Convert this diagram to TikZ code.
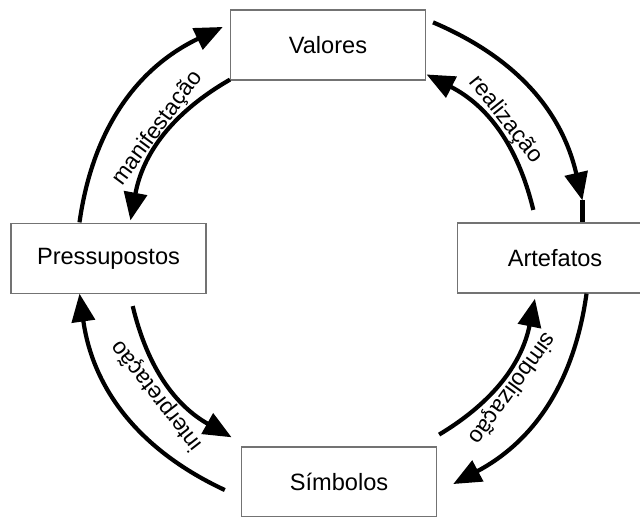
\documentclass[tikz,border=0pt]{standalone}
\usepackage{fontspec}
\setmainfont{Liberation Sans}
\usetikzlibrary{arrows.meta, calc}
\tikzstyle{box} = [rectangle, minimum width=97.5pt, minimum height=35pt, text centered, draw=black!55, line width=0.6pt, font=\fontsize{11.8}{14}\selectfont]
\tikzstyle{arrow} = [-{Triangle[length=14pt, width=11.5pt]}, line width=2.1pt]
\tikzstyle{stub} = [line width=2.1pt]
\tikzstyle{flowtext} = [font=\fontsize{11.4}{13}\selectfont, inner sep=0pt]

\begin{document}
\begin{tikzpicture}[x=0.5pt, y=0.5pt]
	\clip (0,0) rectangle (640,516);
	\coordinate (c) at (333,258);
	\node (valores) [box] at (328,471) {Valores};
	\node (pressupostos) [box] at (108.5,257.5) {Pressupostos};
	\node (artefatos) [box] at (555,258) {Artefatos};
	\node (simbolos) [box] at (339,34) {Símbolos};

	% arc ends: outer radius 256, inner radius 206
	\coordinate (m1) at ($(c)+(172:256)$);
	\coordinate (m2) at ($(c)+(115.5:256)$);
	\coordinate (m3) at ($(c)+(120:206)$);
	\coordinate (m4) at ($(c)+(169.5:206)$);
	\coordinate (r1) at ($(c)+(67:256)$);
	\coordinate (r2) at ($(c)+(13:256)$);
	\coordinate (r3) at ($(c)+(13.5:206)$);
	\coordinate (r4) at ($(c)+(63:206)$);
	\coordinate (s1) at ($(c)+(-8:256)$);
	\coordinate (s2) at ($(c)+(-62:256)$);
	\coordinate (s3) at ($(c)+(-59:206)$);
	\coordinate (s4) at ($(c)+(-11.4:206)$);
	\coordinate (i1) at ($(c)+(193.5:206)$);
	\coordinate (i2) at ($(c)+(240.5:206)$);
	\coordinate (i3) at ($(c)+(245:256)$);
	\coordinate (i4) at ($(c)+(188:256)$);

	\node (manifestacao) [flowtext, rotate=53.5] at ($(c)+(143.5:218)$) {manifestação};
	\node (realizacao) [flowtext, rotate=-51.3] at ($(c)+(38.7:221)$) {realização};
	\node (simbolizacao) [flowtext, rotate=-126] at ($(c)+(-36:221)$) {simbolização};
	\node (interpretacao) [flowtext, rotate=128] at ($(c)+(218:223)$) {interpretação};

	\draw [arrow](m1) to[bend left=28.25] (m2);
	\draw [arrow](m3) to[bend right=24.75] (m4);
	\draw [arrow](r1) to[bend left=27] (r2);
	\draw [stub](r2) -- (r2 |- artefatos.north);
	\draw [arrow](r3) to[bend right=24.75] (r4);
	\draw [arrow](s1) to[bend left=27] (s2);
	\draw [arrow](s3) to[bend right=23.8] (s4);
	\draw [arrow](i1) to[bend right=23.5] (i2);
	\draw [arrow](i3) to[bend left=28.5] (i4);
\end{tikzpicture}
\end{document}
